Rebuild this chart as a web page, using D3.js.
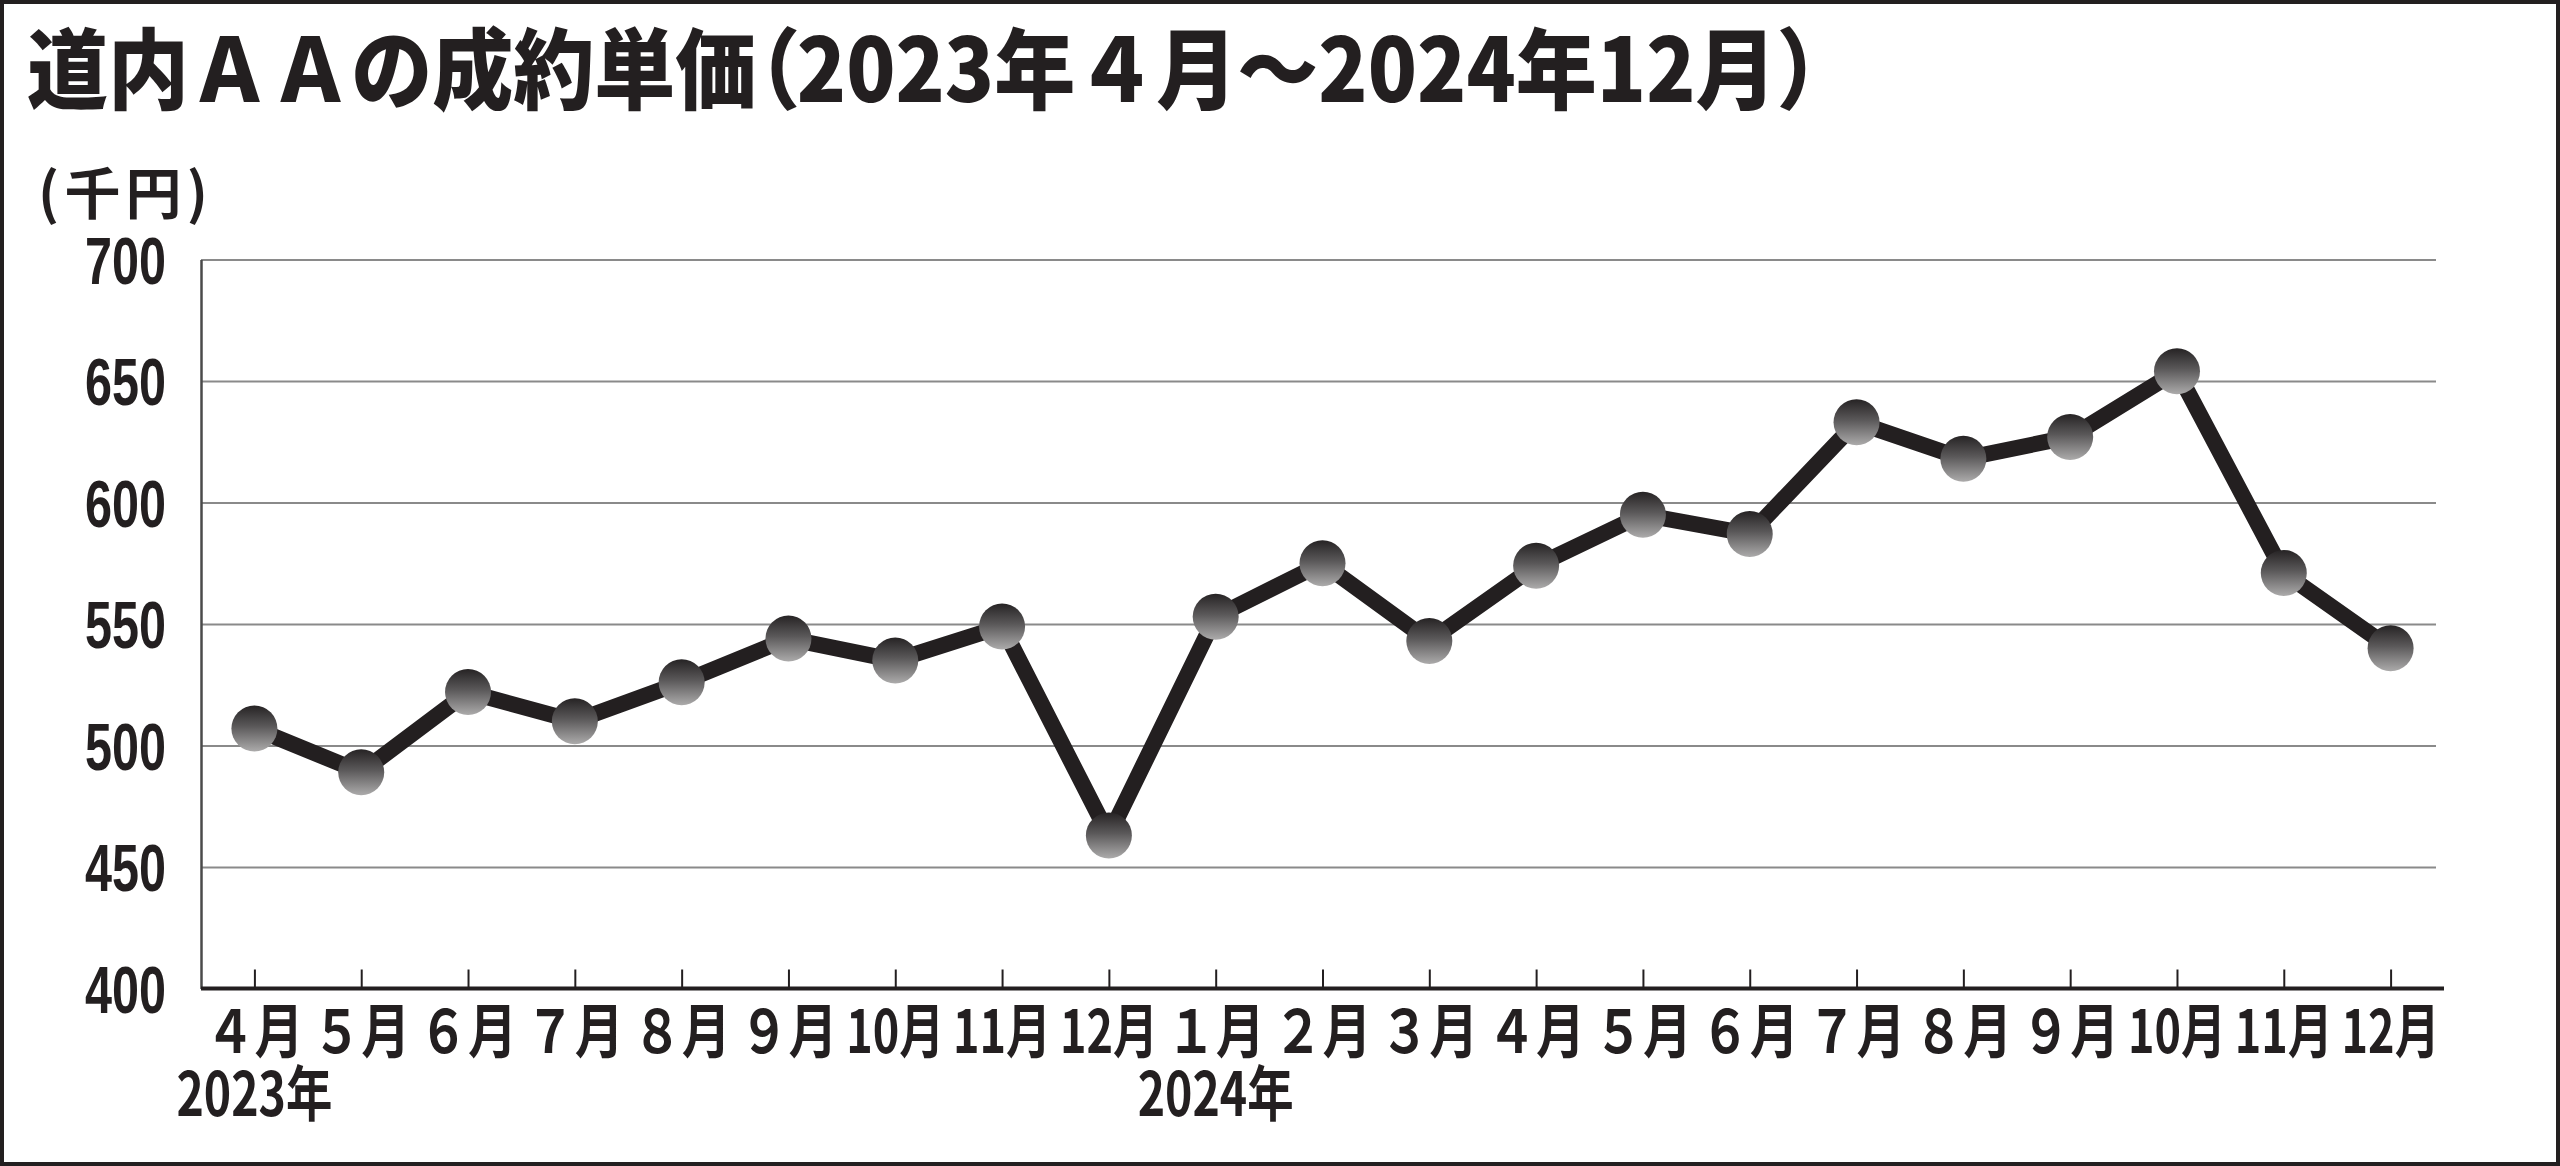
<!DOCTYPE html>
<html>
<head>
<meta charset="utf-8">
<script src="https://cdn.jsdelivr.net/npm/d3@7"></script>
<style>
  html, body { margin: 0; padding: 0; background: #fff; }
  svg { display: block; }
</style>
</head>
<body>
<svg id="chart" width="2560" height="1166"></svg>
<script>
// ---- data ----
const categories = ["2023-04","2023-05","2023-06","2023-07","2023-08","2023-09","2023-10","2023-11","2023-12",
                    "2024-01","2024-02","2024-03","2024-04","2024-05","2024-06","2024-07","2024-08","2024-09","2024-10","2024-11","2024-12"];
const monthLabels = ["４月","５月","６月","７月","８月","９月","10月","11月","12月",
                     "１月","２月","３月","４月","５月","６月","７月","８月","９月","10月","11月","12月"];
const values = [507,489,522,510,526,544,535,549,463,553,575,543,574,595,587,633,618,627,654,571,540];
const yearLabels = [{cat: "2023-04", text: "2023年"}, {cat: "2024-01", text: "2024年"}];
const yTicks = [400,450,500,550,600,650,700];
const titleParts = ["道内ＡＡの成約単価", "（", "2023年４月～2024年12月", "）"];
const unitText = "(千円)";

// ---- layout ----
const W = 2560, H = 1166;
const plotLeft = 201, plotRight = 2444, gridRight = 2436, plotTop = 259.5, plotBottom = 988.5;
const ink = "#231f20";
const svg = d3.select("#chart");

// frame
svg.append("rect").attr("x", 2).attr("y", 2).attr("width", W - 4).attr("height", H - 4)
  .attr("fill", "#fff").attr("stroke", ink).attr("stroke-width", 4);

// title (measured, then scaled horizontally to the reference width)
const titleWidth = 1831;
const title = svg.append("text")
  .attr("font-family", "'Noto Sans CJK JP'").attr("font-weight", 900)
  .attr("font-size", 88).attr("fill", ink);
title.selectAll("tspan").data(titleParts).join("tspan")
  .style("font-feature-settings", (d, i) => i === 1 ? "'palt' 1" : "normal")
  .text(d => d);
const natural = title.node().getComputedTextLength() || titleWidth;
title.attr("transform", `translate(27,102) scale(${titleWidth / natural},1)`);

// unit
svg.append("text").attr("x", 38).attr("y", 214)
  .attr("font-family", "'Noto Sans CJK JP'").attr("font-weight", 700)
  .attr("font-size", 56).attr("fill", ink)
  .attr("textLength", 170).attr("lengthAdjust", "spacing")
  .text(unitText);

// scales
const x = d3.scalePoint().domain(categories).range([plotLeft, plotRight]).padding(0.5);
const y = d3.scaleLinear().domain([400, 700]).range([plotBottom, plotTop]);

// gridlines
const grid = svg.append("g").attr("transform", `translate(${plotLeft},0)`)
  .call(d3.axisLeft(y).tickValues(yTicks.filter(v => v > 400)).tickSize(-(gridRight - plotLeft)).tickFormat(""));
grid.select(".domain").remove();
grid.selectAll(".tick line").attr("stroke", "#8a8a8a").attr("stroke-width", 2);

// y axis line + labels
const yAxis = svg.append("g").attr("transform", `translate(${plotLeft},0)`)
  .call(d3.axisLeft(y).tickValues(yTicks).tickSize(0).tickPadding(35));
yAxis.select(".domain").attr("stroke", "#4a4a4a").attr("stroke-width", 2.5);
yAxis.selectAll(".tick text")
  .attr("font-family", "'Liberation Sans', Arial, sans-serif").attr("font-weight", 700)
  .attr("font-size", 66).attr("fill", ink)
  .attr("textLength", 81).attr("lengthAdjust", "spacingAndGlyphs")
  .attr("dy", "0.36em");

// x axis
const xAxis = svg.append("g").attr("transform", `translate(0,${plotBottom})`)
  .call(d3.axisBottom(x).tickSizeInner(-19).tickSizeOuter(0).tickFormat(""));
xAxis.select(".domain").attr("stroke", ink).attr("stroke-width", 4)
  .attr("d", `M${plotLeft},0H${plotRight}`);
xAxis.selectAll(".tick line").attr("stroke", ink).attr("stroke-width", 2);

// month labels (slightly condensed, stretched vertically)
svg.append("g").selectAll("text").data(categories).join("text")
  .attr("transform", d => `translate(${x(d)},1053) scale(1,1.16)`)
  .attr("text-anchor", "middle")
  .attr("font-family", "'Noto Sans CJK JP'").attr("font-weight", 700)
  .attr("font-size", 51).attr("fill", ink)
  .attr("textLength", 98).attr("lengthAdjust", "spacingAndGlyphs")
  .text((d, i) => monthLabels[i]);

// year labels
svg.append("g").selectAll("text").data(yearLabels).join("text")
  .attr("transform", d => `translate(${x(d.cat)},1116) scale(1,1.16)`)
  .attr("text-anchor", "middle")
  .attr("font-family", "'Noto Sans CJK JP'").attr("font-weight", 700)
  .attr("font-size", 52).attr("fill", ink)
  .attr("textLength", 156).attr("lengthAdjust", "spacingAndGlyphs")
  .text(d => d.text);

// gradient for markers
const defs = svg.append("defs");
const grad = defs.append("linearGradient").attr("id", "ball")
  .attr("x1", 0).attr("y1", 0).attr("x2", 0).attr("y2", 1);
grad.append("stop").attr("offset", "0%").attr("stop-color", "#262324");
grad.append("stop").attr("offset", "45%").attr("stop-color", "#5a5859");
grad.append("stop").attr("offset", "100%").attr("stop-color", "#acabab");

// line
const pts = categories.map((c, i) => ({c, v: values[i]}));
svg.append("path").datum(pts)
  .attr("fill", "none").attr("stroke", ink).attr("stroke-width", 16)
  .attr("stroke-linejoin", "miter")
  .attr("d", d3.line().x(d => x(d.c)).y(d => y(d.v)));

// markers
svg.append("g").selectAll("circle").data(pts).join("circle")
  .attr("cx", d => x(d.c)).attr("cy", d => y(d.v)).attr("r", 23)
  .attr("fill", "url(#ball)");
</script>
</body>
</html>
